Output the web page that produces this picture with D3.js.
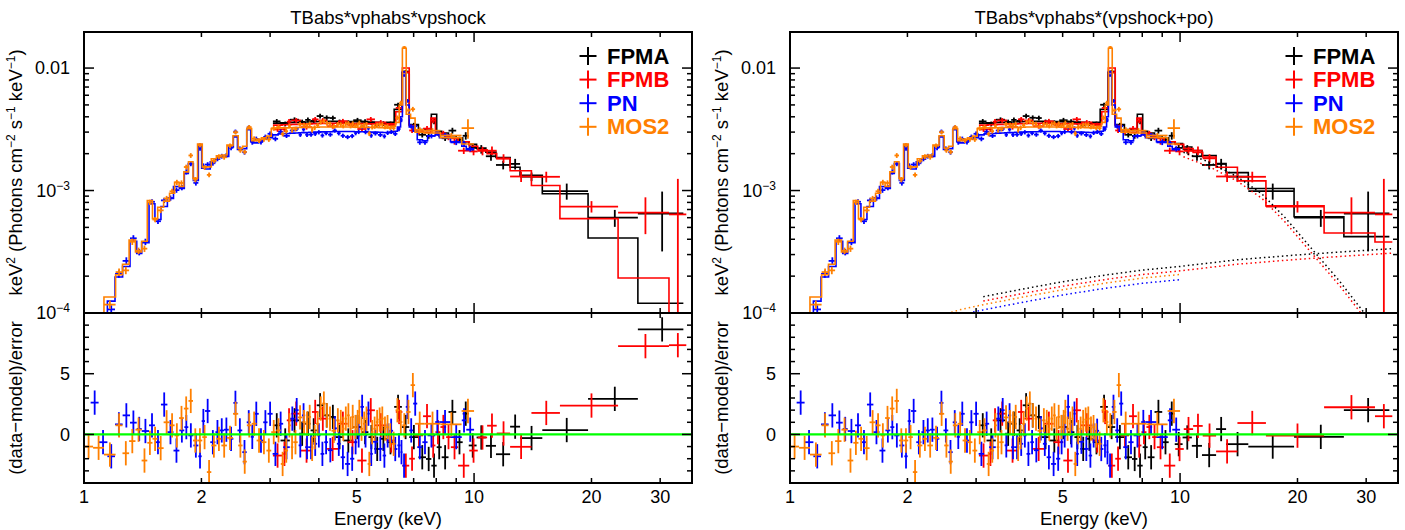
<!DOCTYPE html>
<html lang="en">
<head>
<meta charset="UTF-8">
<title>Broadband spectral fits</title>
<script src="https://d3js.org/d3.v7.min.js"></script>
<style>
  body { margin: 0; background: #fff; font-family: "Liberation Sans", Arial, Helvetica, sans-serif; }
  svg { display: block; }
  .frame { fill: none; stroke: #000; stroke-width: 2; }
  .tick { stroke: #000; stroke-width: 1.5; }
  .tlabel { font-size: 18px; fill: #000; }
  .alabel { font-size: 18.5px; fill: #000; }
  .title { font-size: 18.5px; fill: #000; text-anchor: middle; }
  .legend { font-size: 22px; font-weight: bold; }
</style>
</head>
<body>
<svg width="1405" height="530"></svg>
<script>
// axis ranges and labels
const energyDomain = [1, 36.2];
const fluxDomain = [1e-4, 0.0197];
const residDomain = [-4, 10];
const xTickLabels = [1, 2, 5, 10, 20, 30];
const fluxTickLabels = [[1e-4, "10", "\u22124"], [1e-3, "10", "\u22123"], [1e-2, "0.01", ""]];
const residTickLabels = [0, 5];
const fitTitles = ["TBabs*vphabs*vpshock", "TBabs*vphabs*(vpshock+po)"];

const instruments = ["FPMA", "FPMB", "PN", "MOS2"];
const colors = ["#000000", "#ff0000", "#0000ff", "#ff8000"];
const crossNorm = [1, 0.92, 0.78, 0.86];

// bins: [E low, E high, model (fit 1), fractional error, (data-model)/error]
const fpmaBins = [
  [3.05,3.19,3.55e-3,.045,0.75],[3.19,3.37,3.58e-3,.045,-0.50],[3.37,3.56,3.60e-3,.045,1.16],
  [3.56,3.69,3.62e-3,.045,0.06],[3.69,3.81,3.63e-3,.045,0.88],[3.81,3.95,3.65e-3,.045,0.33],
  [3.95,4.11,3.66e-3,.045,2.40],[4.11,4.27,3.67e-3,.045,1.57],[4.27,4.42,3.67e-3,.045,1.44],
  [4.42,4.62,3.67e-3,.045,-0.22],[4.62,4.90,3.66e-3,.045,-0.50],[4.90,5.15,3.65e-3,.045,0.61],
  [5.15,5.36,3.63e-3,.045,0.19],[5.36,5.55,3.62e-3,.045,-0.22],[5.55,5.74,3.60e-3,.045,-1.19],
  [5.74,5.97,3.58e-3,.045,-0.36],[5.97,6.24,3.60e-3,.045,-0.64],[6.24,6.53,4.60e-3,.04,2.27],
  [6.53,6.82,9.20e-3,.03,0.61],[6.82,7.20,3.45e-3,.045,-0.22],[7.20,7.53,3.15e-3,.05,-1.88],
  [7.53,7.77,3.10e-3,.05,-2.02],[7.77,8.02,4.20e-3,.05,-2.57],[8.02,8.26,3.05e-3,.05,-1.05],
  [8.26,8.60,2.95e-3,.05,-1.88],[8.60,9.00,2.80e-3,.055,1.85],[9.00,9.35,2.70e-3,.06,-0.64],
  [9.35,9.69,2.50e-3,.07,1.71],[9.69,10.15,2.38e-3,.07,-0.91],[10.15,10.72,2.22e-3,.08,-0.25],
  [10.72,11.38,2.06e-3,.08,-0.94],[11.38,12.37,1.86e-3,.08,-1.63],[12.37,13.12,1.55e-3,.1,0.64],
  [13.12,14.96,1.33e-3,.08,-0.30],[14.96,19.6,9.4e-4,.15,0.36],[19.6,26.3,4.1e-4,.158,2.93],
  [26.3,34.4,1.2e-4,.51,8.65]
];
const fpmbBins = [
  [3.05,3.22,3.42e-3,.045,-1.74],[3.22,3.31,3.44e-3,.05,-1.60],[3.31,3.40,3.45e-3,.05,1.16],
  [3.40,3.60,3.47e-3,.045,1.71],[3.60,3.84,3.50e-3,.045,-1.33],[3.84,3.99,3.52e-3,.045,1.85],
  [3.99,4.20,3.53e-3,.045,1.30],[4.20,4.48,3.54e-3,.045,-1.19],[4.48,4.74,3.54e-3,.045,0.88],
  [4.74,5.02,3.53e-3,.045,-0.64],[5.02,5.30,3.52e-3,.045,-2.15],[5.30,5.57,3.50e-3,.045,1.99],
  [5.57,5.96,3.48e-3,.045,0.75],[5.96,6.30,3.50e-3,.045,-0.50],[6.30,6.55,4.40e-3,.04,1.85],
  [6.55,6.82,1.00e-2,.03,-2.57],[6.82,7.05,3.40e-3,.045,-2.00],[7.05,7.40,3.05e-3,.05,-0.08],
  [7.40,7.75,2.98e-3,.05,1.50],[7.75,7.96,3.90e-3,.05,-0.91],[7.96,8.20,2.92e-3,.05,0.19],
  [8.20,8.48,2.84e-3,.05,0.61],[8.48,8.72,2.76e-3,.055,-0.22],[8.72,9.10,2.66e-3,.055,-1.05],
  [9.10,9.72,2.50e-3,.06,-2.57],[9.72,10.22,2.30e-3,.07,-1.33],[10.22,10.80,2.15e-3,.08,-0.25],
  [10.80,11.43,2.00e-3,.08,0.72],[11.43,12.37,1.82e-3,.08,0.08],[12.37,14.03,1.45e-3,.1,-1.02],
  [14.03,16.6,1.10e-3,.1,1.77],[16.6,23.4,5.9e-4,.107,2.38],[23.4,31.6,1.93e-4,.333,7.27],
  [31.6,35.0,8.0e-5,.95,7.35]
];
const pnBins = [
  [1.040,1.090,5.5e-5,.09,2.62],[1.090,1.148,8.5e-5,.09,-0.64],[1.148,1.201,1.25e-4,.08,-1.80],
  [1.201,1.256,1.97e-4,.07,0.83],[1.256,1.312,2.40e-4,.07,1.57],[1.312,1.365,3.85e-4,.06,0.97],
  [1.365,1.406,3.06e-4,.06,0.45],[1.406,1.468,3.75e-4,.06,0.28],[1.468,1.520,7.80e-4,.05,0.75],
  [1.520,1.575,5.80e-4,.05,-0.64],[1.575,1.636,7.40e-4,.05,2.46],[1.636,1.696,8.60e-4,.05,0.19],
  [1.696,1.756,1.08e-3,.05,-1.33],[1.756,1.808,1.04e-3,.05,0.33],[1.808,1.851,1.38e-3,.05,0.60],
  [1.851,1.907,1.66e-3,.045,-0.08],[1.907,1.964,1.21e-3,.05,-0.91],[1.964,2.003,2.37e-3,.04,-1.80],
  [2.003,2.043,1.52e-3,.045,1.10],[2.043,2.107,1.50e-3,.045,1.93],[2.107,2.172,1.72e-3,.045,-0.64],
  [2.172,2.225,1.80e-3,.045,0.19],[2.225,2.285,1.88e-3,.045,0.33],[2.285,2.350,1.90e-3,.045,0.39],
  [2.350,2.415,2.27e-3,.045,-0.36],[2.415,2.474,2.74e-3,.04,2.60],[2.474,2.545,2.16e-3,.045,0.33],
  [2.545,2.613,2.20e-3,.045,-1.46],[2.613,2.676,3.14e-3,.04,1.00],[2.676,2.725,2.50e-3,.045,-0.20],
  [2.725,2.805,2.45e-3,.045,1.70],[2.805,2.880,2.55e-3,.045,-0.50],[2.880,2.955,2.62e-3,.045,1.00],
  [2.955,3.045,2.70e-3,.045,1.70],[3.045,3.145,2.85e-3,.045,-1.60],[3.145,3.240,2.90e-3,.045,0.88],
  [3.24,3.37,2.92e-3,.04,-1.05],[3.37,3.47,2.94e-3,.04,1.30],[3.47,3.55,2.95e-3,.04,2.00],
  [3.55,3.62,2.96e-3,.04,-0.90],[3.62,3.69,2.97e-3,.04,1.57],[3.69,3.77,2.98e-3,.04,-1.05],
  [3.77,3.87,2.99e-3,.04,-1.05],[3.87,3.96,3.00e-3,.04,-0.77],[3.96,4.04,3.00e-3,.04,-0.08],
  [4.04,4.13,3.01e-3,.04,-1.60],[4.13,4.22,3.02e-3,.04,-0.64],[4.22,4.34,3.02e-3,.04,-1.30],
  [4.34,4.45,3.03e-3,.04,0.50],[4.45,4.55,3.03e-3,.04,-0.77],[4.55,4.67,3.03e-3,.04,-1.88],
  [4.67,4.81,3.03e-3,.04,-2.43],[4.81,4.93,3.03e-3,.04,-2.00],[4.93,5.01,3.02e-3,.04,-0.64],
  [5.01,5.11,3.02e-3,.04,-0.08],[5.11,5.22,3.02e-3,.04,2.27],[5.22,5.32,3.01e-3,.04,-0.08],
  [5.32,5.40,3.01e-3,.04,1.71],[5.40,5.50,3.00e-3,.04,-1.60],[5.50,5.67,3.00e-3,.04,-0.60],
  [5.67,5.83,2.99e-3,.04,-1.19],[5.83,5.95,2.98e-3,.04,-1.74],[5.95,6.06,2.97e-3,.04,-0.08],
  [6.06,6.20,2.98e-3,.04,0.30],[6.20,6.36,3.05e-3,.04,-1.20],[6.36,6.48,3.30e-3,.04,-0.90],
  [6.48,6.55,4.00e-3,.04,-1.46],[6.55,6.68,9.30e-3,.025,-2.57],[6.68,6.82,5.00e-3,.035,2.27],
  [6.82,6.98,3.30e-3,.04,0.33],[6.98,7.15,3.05e-3,.04,2.54],[7.15,7.37,2.60e-3,.045,-1.05],
  [7.37,7.60,2.55e-3,.045,-0.64],[7.60,7.95,2.80e-3,.045,-0.08],[7.95,8.15,2.85e-3,.045,1.02],
  [8.15,8.70,2.70e-3,.045,1.02],[8.70,9.30,2.50e-3,.05,-0.22],[9.30,9.55,2.30e-3,.05,1.16],
  [9.55,10.0,2.15e-3,.05,0.39]
];
const mos2Bins = [
  [1.000,1.055,5.0e-5,.1,-1.00],[1.055,1.125,8.0e-5,.1,-1.10],[1.125,1.205,1.35e-4,.08,-1.66],
  [1.205,1.255,2.05e-4,.07,0.75],[1.255,1.305,2.50e-4,.07,-1.55],[1.305,1.355,3.95e-4,.06,-0.55],
  [1.355,1.405,3.15e-4,.06,0.39],[1.405,1.453,3.85e-4,.06,-2.15],[1.453,1.498,8.30e-4,.05,-0.69],
  [1.498,1.545,5.90e-4,.05,-0.36],[1.545,1.600,7.30e-4,.05,-1.13],[1.600,1.657,8.20e-4,.05,1.00],
  [1.657,1.707,9.50e-4,.05,0.75],[1.707,1.753,1.17e-3,.05,-0.08],[1.753,1.803,1.08e-3,.05,1.35],
  [1.803,1.853,1.42e-3,.045,2.13],[1.853,1.903,1.72e-3,.045,2.76],[1.903,1.955,1.26e-3,.05,-0.50],
  [1.955,2.010,2.40e-3,.04,-0.50],[2.010,2.065,1.56e-3,.045,-0.22],[2.065,2.120,1.56e-3,.045,-3.10],
  [2.120,2.185,1.82e-3,.045,-0.91],[2.185,2.250,1.92e-3,.045,-0.36],[2.250,2.325,1.95e-3,.045,-0.91],
  [2.325,2.410,2.35e-3,.045,-0.28],[2.410,2.485,2.80e-3,.04,1.70],[2.485,2.550,2.22e-3,.045,-0.91],
  [2.550,2.615,2.30e-3,.045,-2.24],[2.615,2.690,3.20e-3,.04,0.75],[2.690,2.770,2.55e-3,.045,0.88],
  [2.770,2.850,2.62e-3,.045,-0.50],[2.850,2.935,2.70e-3,.045,-0.64],[2.935,3.020,2.78e-3,.045,-1.33],
  [3.020,3.110,3.20e-3,.045,0.19],[3.110,3.195,3.25e-3,.045,0.33],[3.195,3.265,3.25e-3,.045,-2.43],
  [3.265,3.335,3.25e-3,.045,-1.33],[3.335,3.390,3.26e-3,.045,0.75],[3.390,3.440,3.26e-3,.045,-1.05],
  [3.440,3.530,3.27e-3,.045,-0.64],[3.530,3.630,3.27e-3,.045,1.40],[3.630,3.700,3.28e-3,.045,1.02],
  [3.700,3.760,3.28e-3,.045,0.88],[3.760,3.820,3.28e-3,.045,1.44],[3.820,3.870,3.29e-3,.045,-1.19],
  [3.870,3.935,3.29e-3,.045,-0.22],[3.935,4.010,3.29e-3,.045,0.88],[4.010,4.080,3.30e-3,.045,2.13],
  [4.080,4.160,3.30e-3,.045,2.54],[4.160,4.235,3.30e-3,.045,1.57],[4.235,4.310,3.30e-3,.045,1.30],
  [4.310,4.430,3.30e-3,.045,0.30],[4.430,4.520,3.30e-3,.045,1.16],[4.520,4.585,3.30e-3,.045,1.02],
  [4.585,4.655,3.30e-3,.045,0.47],[4.655,4.725,3.30e-3,.045,1.30],[4.725,4.800,3.30e-3,.045,1.57],
  [4.800,4.850,3.30e-3,.045,0.47],[4.850,4.920,3.30e-3,.045,1.44],[4.920,5.005,3.29e-3,.045,0.61],
  [5.005,5.055,3.29e-3,.045,1.02],[5.055,5.105,3.29e-3,.045,1.85],[5.105,5.190,3.29e-3,.045,0.47],
  [5.190,5.265,3.28e-3,.045,0.88],[5.265,5.335,3.28e-3,.045,1.30],[5.335,5.440,3.28e-3,.045,-2.43],
  [5.440,5.520,3.27e-3,.045,0.19],[5.520,5.600,3.27e-3,.045,0.47],[5.600,5.685,3.27e-3,.045,1.02],
  [5.685,5.770,3.26e-3,.045,1.22],[5.770,5.865,3.26e-3,.045,1.30],[5.865,5.955,3.25e-3,.045,0.47],
  [5.955,6.045,3.25e-3,.045,0.60],[6.045,6.150,3.26e-3,.045,-0.08],[6.150,6.290,3.35e-3,.045,-0.77],
  [6.290,6.430,3.60e-3,.045,1.99],[6.430,6.550,5.00e-3,.04,1.02],[6.550,6.700,1.45e-2,.025,0.75],
  [6.700,6.875,4.20e-3,.04,1.85],[6.875,7.060,3.90e-3,.045,4.06],[7.060,7.450,3.00e-3,.05,0.88],
  [7.450,8.200,2.95e-3,.05,0.88],[8.200,9.290,2.70e-3,.05,0.83],[9.290,10.00,2.40e-3,.18,1.93]
];

// second fit (vpshock+po) where it differs: [E low, model, (data-model)/error]
const fpmaFit2 = [
  [9.69,2.42e-3,-0.80],[10.15,2.27e-3,-0.25],[10.72,2.12e-3,-0.94],[11.38,1.93e-3,-1.70],
  [12.37,1.66e-3,0.44],[13.12,1.40e-3,-0.80],[14.96,1.04e-3,-1.00],[19.6,6.1e-4,-0.20],[26.3,4.2e-4,2.00]
];
const fpmbFit2 = [
  [9.72,2.38e-3,-1.20],[10.22,2.20e-3,0.44],[10.80,2.05e-3,0.70],[11.43,1.88e-3,-0.10],
  [12.37,1.55e-3,-1.40],[14.03,1.20e-3,0.94],[16.6,7.5e-4,-0.10],[23.4,4.5e-4,2.24],[31.6,3.8e-4,1.50]
];

// model components of fit 2 (FPMA normalisation): [E, keV^2 flux]
const poComp = [
  [2.4,1.10e-4],[2.74,1.24e-4],[3.13,1.36e-4],[4,1.58e-4],[5,1.80e-4],[6.5,2.05e-4],[8,2.24e-4],
  [10,2.40e-4],[14,2.72e-4],[20,2.98e-4],[27,3.18e-4],[35,3.35e-4]
];
const shockComp = [
  [10.2,2.05e-3],[11.8,1.72e-3],[14,1.30e-3],[16.2,9.4e-4],[18.6,6.0e-4],[22.3,3.05e-4],
  [25.6,1.83e-4],[29.6,1.01e-4],[35,4.0e-5]
];

const svg = d3.select("svg");
const W = 608, topH = 281, resH = 170, panelTop = 32;
const panelLeft = [84, 790];

const x = d3.scaleLog().domain(energyDomain).range([0, W]);
const yFlux = d3.scaleLog().domain(fluxDomain).range([topH, 0]);
const yRes = d3.scaleLinear().domain(residDomain).range([topH + resH, topH]);
const fy = v => yFlux(Math.max(v, 1e-7));

function build(bins, fit2) {
  const over = new Map((fit2 || []).map(o => [o[0], o]));
  return bins.map(([lo, hi, m, e, r]) => {
    const o = over.get(lo);
    return { lo, hi, mid: (lo + hi) / 2, e, data: m * (1 + r * e),
             model: [m, o ? o[1] : m], resid: [r, o ? o[2] : r] };
  });
}

const sets = [
  build(fpmaBins, fpmaFit2), build(fpmbBins, fpmbFit2), build(pnBins), build(mos2Bins)
];

const stepLine = d3.line().curve(d3.curveStepAfter).x(d => x(d[0])).y(d => fy(d[1]));
const smoothLine = d3.line().x(d => x(d[0])).y(d => fy(d[1]));

function drawPanel(fit) {
  const g = svg.append("g").attr("transform", `translate(${panelLeft[fit]},${panelTop})`);
  const defs = g.append("defs");
  defs.append("clipPath").attr("id", "ct" + fit)
    .append("rect").attr("width", W).attr("height", topH);
  defs.append("clipPath").attr("id", "cr" + fit)
    .append("rect").attr("y", topH).attr("width", W).attr("height", resH);

  const top = g.append("g").attr("clip-path", `url(#ct${fit})`);
  const res = g.append("g").attr("clip-path", `url(#cr${fit})`);

  sets.forEach((bins, i) => {
    const c = colors[i];
    // spectrum crosses
    const gd = top.append("g").attr("stroke", c).attr("stroke-width", 1.8);
    gd.selectAll(".h").data(bins).enter().append("line")
      .attr("x1", d => x(d.lo)).attr("x2", d => x(d.hi))
      .attr("y1", d => fy(d.data)).attr("y2", d => fy(d.data));
    gd.selectAll(".v").data(bins).enter().append("line")
      .attr("x1", d => x(d.mid)).attr("x2", d => x(d.mid))
      .attr("y1", d => fy(d.data * (1 - d.e))).attr("y2", d => fy(d.data * (1 + d.e)));

    // folded model
    const pts = bins.map(d => [d.lo, d.model[fit]]);
    pts.push([bins[bins.length - 1].hi, bins[bins.length - 1].model[fit]]);
    top.append("path").attr("d", stepLine(pts))
      .attr("fill", "none").attr("stroke", c).attr("stroke-width", 1.6);

    // residual crosses
    const gr = res.append("g").attr("stroke", c).attr("stroke-width", 1.8);
    gr.selectAll(".h").data(bins).enter().append("line")
      .attr("x1", d => x(d.lo)).attr("x2", d => x(d.hi))
      .attr("y1", d => yRes(d.resid[fit])).attr("y2", d => yRes(d.resid[fit]));
    gr.selectAll(".v").data(bins).enter().append("line")
      .attr("x1", d => x(d.mid)).attr("x2", d => x(d.mid))
      .attr("y1", d => yRes(d.resid[fit] - 1)).attr("y2", d => yRes(d.resid[fit] + 1));
  });

  // dotted additive components
  if (fit === 1) {
    sets.forEach((bins, i) => {
      const eMin = bins[0].lo, eMax = bins[bins.length - 1].hi * 1.02;
      const scale = p => [p[0], p[1] * crossNorm[i]];
      const po = poComp.filter(p => p[0] >= eMin && p[0] <= eMax).map(scale);
      top.append("path").attr("d", smoothLine(po)).attr("fill", "none")
        .attr("stroke", colors[i]).attr("stroke-width", 1.5).attr("stroke-dasharray", "1.5 3");
      if (i < 2) {
        const sh = shockComp.filter(p => p[0] <= eMax).map(scale);
        top.append("path").attr("d", smoothLine(sh)).attr("fill", "none")
          .attr("stroke", colors[i]).attr("stroke-width", 1.5).attr("stroke-dasharray", "1.5 3");
      }
    });
  }

  // zero line
  res.append("line").attr("x1", 0).attr("x2", W)
    .attr("y1", yRes(0)).attr("y2", yRes(0))
    .attr("stroke", "#00ff00").attr("stroke-width", 2.2);

  // frames
  g.append("rect").attr("class", "frame").attr("width", W).attr("height", topH);
  g.append("rect").attr("class", "frame").attr("y", topH).attr("width", W).attr("height", resH);

  // ticks
  const ticks = g.append("g").attr("class", "tick");
  const isDecade = v => Math.abs(Math.log10(v) - Math.round(Math.log10(v))) < 1e-9;
  x.ticks().forEach(v => {
    const len = isDecade(v) ? 10 : 5, px = x(v);
    [[0, 1], [topH, -1], [topH, 1], [topH + resH, -1]].forEach(([y0, dir]) => {
      ticks.append("line").attr("x1", px).attr("x2", px).attr("y1", y0).attr("y2", y0 + dir * len);
    });
  });
  yFlux.ticks().forEach(v => {
    const len = isDecade(v) ? 10 : 5, py = yFlux(v);
    ticks.append("line").attr("x1", 0).attr("x2", len).attr("y1", py).attr("y2", py);
    ticks.append("line").attr("x1", W).attr("x2", W - len).attr("y1", py).attr("y2", py);
  });
  d3.range(residDomain[0] + 1, residDomain[1]).forEach(v => {
    const len = v % 5 === 0 ? 10 : 5, py = yRes(v);
    ticks.append("line").attr("x1", 0).attr("x2", len).attr("y1", py).attr("y2", py);
    ticks.append("line").attr("x1", W).attr("x2", W - len).attr("y1", py).attr("y2", py);
  });

  // tick labels
  g.selectAll(".xl").data(xTickLabels).enter().append("text")
    .attr("class", "tlabel").attr("text-anchor", "middle")
    .attr("x", d => x(d)).attr("y", topH + resH + 20).text(d => d);
  fluxTickLabels.forEach(([v, base, sup]) => {
    const t = g.append("text").attr("class", "tlabel").attr("text-anchor", "end")
      .attr("x", sup ? -14 : -14).attr("y", yFlux(v) + 6);
    t.append("tspan").text(base);
    if (sup) t.append("tspan").attr("font-size", "12px").attr("dy", -7).text(sup);
  });
  g.selectAll(".rl").data(residTickLabels).enter().append("text")
    .attr("class", "tlabel").attr("text-anchor", "end")
    .attr("x", -14).attr("y", d => yRes(d) + 6.5).text(d => d);

  // axis titles
  const yt = g.append("text").attr("class", "alabel").attr("text-anchor", "middle")
    .attr("transform", `translate(-68,${topH / 2}) rotate(-90)`).attr("dy", "0.35em");
  [["keV", 0], ["2", 1], [" (Photons cm", 0], ["\u22122", 1], [" s", 0], ["\u22121", 1],
   [" keV", 0], ["\u22121", 1], [")", 0]].forEach(([s, up], k, arr) => {
    const ts = yt.append("tspan").text(s);
    if (up) ts.attr("font-size", "12px").attr("dy", -7);
    else if (k > 0 && arr[k - 1][1]) ts.attr("dy", 7);
  });
  g.append("text").attr("class", "alabel").attr("text-anchor", "middle")
    .attr("transform", `translate(-68,${topH + resH / 2}) rotate(-90)`).attr("dy", "0.35em")
    .text("(data\u2212model)/error");
  g.append("text").attr("class", "alabel").attr("text-anchor", "middle")
    .attr("x", W / 2).attr("y", topH + resH + 42).text("Energy (keV)");
  g.append("text").attr("class", "title").attr("x", W / 2).attr("y", -8).text(fitTitles[fit]);

  // legend
  const lg = g.append("g").attr("transform", `translate(${W - 104},24)`);
  instruments.forEach((name, i) => {
    const row = lg.append("g").attr("transform", `translate(0,${i * 23.6})`);
    row.append("line").attr("x1", -8.5).attr("x2", 8.5).attr("y1", 0).attr("y2", 0)
      .attr("stroke", colors[i]).attr("stroke-width", 2);
    row.append("line").attr("x1", 0).attr("x2", 0).attr("y1", -9).attr("y2", 9)
      .attr("stroke", colors[i]).attr("stroke-width", 2);
    row.append("text").attr("class", "legend").attr("x", 19).attr("y", 7.5)
      .attr("fill", colors[i]).text(name);
  });
}

drawPanel(0);
drawPanel(1);
</script>
</body>
</html>
